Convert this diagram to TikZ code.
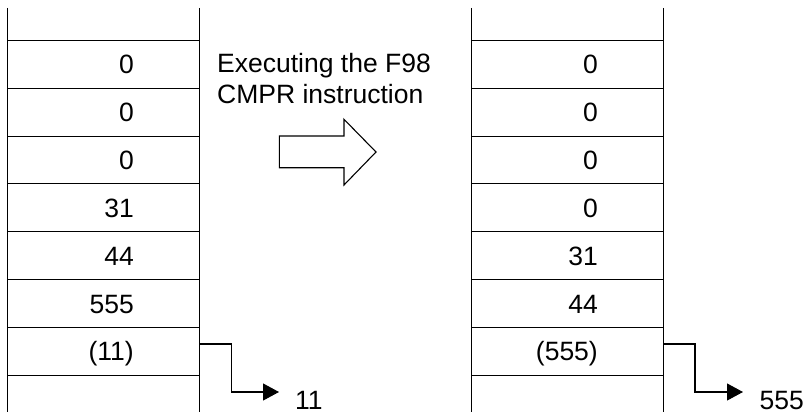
\documentclass[tikz,border=0pt]{standalone}
\usepackage{fontspec}
\setmainfont{Liberation Sans}
\usetikzlibrary{arrows.meta}
\begin{document}
\begin{tikzpicture}[x=1pt,y=-1pt,
  ln/.style={line width=1.1pt,black},
  txt/.style={inner sep=0pt,font=\fontsize{26.5}{31}\selectfont},
  cell/.style={txt,anchor=base east},
  lbl/.style={txt,anchor=base west},
  conn/.style={ln,-{Triangle[length=16pt,width=17pt]}},
  blockarrow/.style={line width=1.1pt,black,line join=miter}]
\useasboundingbox (0,0) rectangle (806,412);
\def\yz{40.5}
\def\dy{47.8}
% left stack
\draw[ln] (7.5,8) -- (7.5,412);
\draw[ln] (199.3,8) -- (199.3,412);
\foreach \i in {0,...,7}{\draw[ln] (7.5,\yz+\i*\dy) -- (199.3,\yz+\i*\dy);}
% right stack
\draw[ln] (471.7,8) -- (471.7,412);
\draw[ln] (663.3,8) -- (663.3,412);
\foreach \i in {0,...,7}{\draw[ln] (471.7,\yz+\i*\dy) -- (663.3,\yz+\i*\dy);}
% left cells
\foreach \t [count=\i] in {0,0,0,31,44,555,(11)}{
  \node[cell] (L\i) at (134,\yz+\i*\dy-0.5*\dy+9.6) {\t};}
% right cells
\foreach \t [count=\i] in {0,0,0,0,31,44,(555)}{
  \node[cell] (R\i) at (598,\yz+\i*\dy-0.5*\dy+9.6) {\t};}
% caption
\node[txt,anchor=north west,align=left] (cap) at (217,53) {Executing the F98\\CMPR instruction};
% block arrow
\draw[blockarrow] (279.3,136) -- (344,136) -- (344,119.3) -- (376,152) -- (344,185) -- (344,167.7) -- (279.3,167.7) -- cycle;
% connectors
\coordinate (Ls) at (199.3,344);
\coordinate (Lt) at (279,392);
\node[lbl] (Lv) at (295,409) {11};
\draw[conn] (Ls) -- (231.7,344) -- (231.7,392) -- (Lt);
\coordinate (Rs) at (663.3,344);
\coordinate (Rt) at (743,392);
\node[lbl] (Rv) at (759.5,409) {555};
\draw[conn] (Rs) -- (695,344) -- (695,392) -- (Rt);
\end{tikzpicture}
\end{document}
